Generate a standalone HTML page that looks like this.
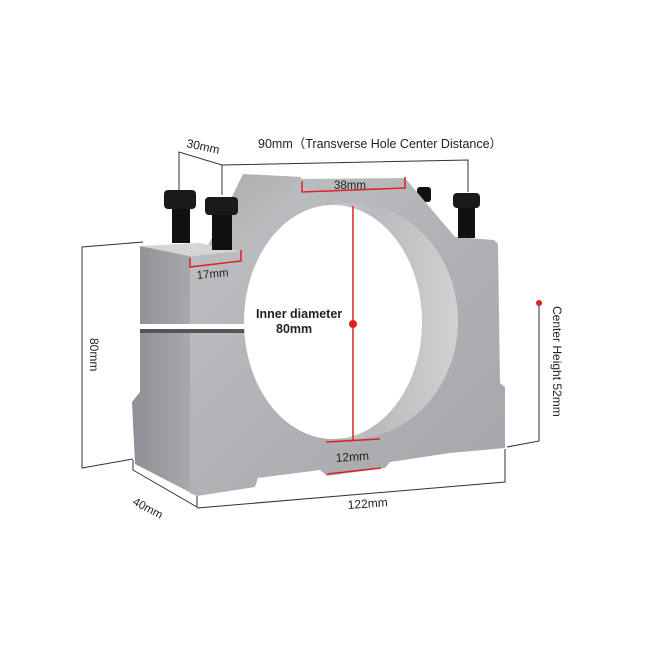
<!DOCTYPE html>
<html><head><meta charset="utf-8"><style>
html,body{margin:0;padding:0;background:#fff;width:650px;height:650px;overflow:hidden}
svg{display:block}
text{font-family:"Liberation Sans",sans-serif;fill:#222}
</style></head><body>
<svg width="650" height="650" viewBox="0 0 650 650" xmlns="http://www.w3.org/2000/svg">
<defs>
<linearGradient id="fr" x1="0" y1="0" x2="1" y2="1">
<stop offset="0" stop-color="#bfc1c4"/><stop offset="0.5" stop-color="#b0b2b5"/><stop offset="1" stop-color="#a4a6a9"/></linearGradient>
<linearGradient id="sd" x1="0" y1="0" x2="1" y2="0">
<stop offset="0" stop-color="#8e9093"/><stop offset="1" stop-color="#a9abae"/></linearGradient>
<linearGradient id="tp" x1="0" y1="0" x2="1" y2="1">
<stop offset="0" stop-color="#a9abae"/><stop offset="1" stop-color="#c2c4c6"/></linearGradient>
<linearGradient id="in" x1="0" y1="0" x2="1" y2="0">
<stop offset="0" stop-color="#e6e7e8"/><stop offset="0.6" stop-color="#b8babd"/><stop offset="1" stop-color="#cfd1d3"/></linearGradient>
</defs>
<!-- side face -->
<polygon points="140,246 190,256 190,493 197,496 135,464 132,402 140,392" fill="url(#sd)"/>
<!-- back bolt -->
<rect x="417" y="187" width="14" height="15" rx="3" fill="#111"/>
<!-- front face -->
<polygon points="190,256 240,251 300,179 405,178 455,237 494,240 498,244 500,383 505,387 505,448 450,453 390,462 385,468 327,476 320,470 258,478 255,487 197,496 190,493" fill="url(#fr)"/>
<!-- top slope face -->
<polygon points="243,174 302,177 242,251 205,252" fill="url(#tp)"/>
<polygon points="140,246 190,256 240,251 200,243" fill="#d3d5d7"/>
<!-- gap line -->
<rect x="135" y="324" width="112" height="7" fill="#fff"/>
<rect x="140" y="329" width="105" height="4" fill="#555"/>
<!-- hole -->
<ellipse cx="351" cy="321" rx="107" ry="118" fill="url(#in)"/>
<ellipse cx="333" cy="322" rx="89" ry="117" fill="#fff"/>
<!-- bolts -->
<rect x="172" y="207" width="18" height="36" fill="#111"/>
<rect x="164" y="190" width="32" height="19" rx="4" fill="#1a1a1a"/>
<rect x="212" y="212" width="20" height="38" fill="#111"/>
<rect x="205" y="197" width="33" height="18" rx="4" fill="#1a1a1a"/>
<rect x="458" y="205" width="17" height="33" fill="#111"/>
<rect x="453" y="193" width="27" height="15" rx="4" fill="#1a1a1a"/>
<!-- dimension lines -->
<g stroke="#333" stroke-width="1" fill="none">
<polyline points="179,190 179,152 222,165 222,195"/>
<polyline points="222,165 468,160 468,192"/>
<polyline points="143,242 82,247 82,468 133,459"/>
<polyline points="133,460 133,470 197,507 197,496"/>
<polyline points="197,508 505,482 505,449"/>
<polyline points="507,447 539,441 539,303"/>
</g>
<!-- red marks -->
<g stroke="#e02020" stroke-width="1.5" fill="none">
<polyline points="302,181 302,192 405,188 405,177"/>
<polyline points="190,258 190,267 241,261 241,250"/>
<line x1="353" y1="206" x2="353" y2="440"/>
<line x1="326" y1="442" x2="380" y2="439"/>
<line x1="327" y1="474" x2="381" y2="468"/>
</g>
<circle cx="353" cy="324" r="4" fill="#e02020"/>
<circle cx="539" cy="303" r="3" fill="#e02020"/>
<!-- labels -->
<text x="186" y="147" font-size="12" transform="rotate(12 186 147)">30mm</text>
<text x="258" y="148" font-size="12.5">90mm（Transverse Hole Center Distance）</text>
<text x="334" y="189" font-size="11.5">38mm</text>
<text x="197" y="279" font-size="11.5" transform="rotate(-5 197 279)">17mm</text>
<text x="256" y="318" font-size="12.5" font-weight="bold">Inner diameter</text>
<text x="276" y="333" font-size="12.5" font-weight="bold">80mm</text>
<text x="90" y="338" font-size="12" transform="rotate(90 90 338)">80mm</text>
<text x="553" y="306" font-size="12" transform="rotate(90 553 306)">Center Height  52mm</text>
<text x="336" y="462" font-size="12" transform="rotate(-4 336 462)">12mm</text>
<text x="132" y="504" font-size="11.5" transform="rotate(28 132 504)">40mm</text>
<text x="348" y="509" font-size="12" transform="rotate(-4 348 509)">122mm</text>
</svg>
</body></html>
